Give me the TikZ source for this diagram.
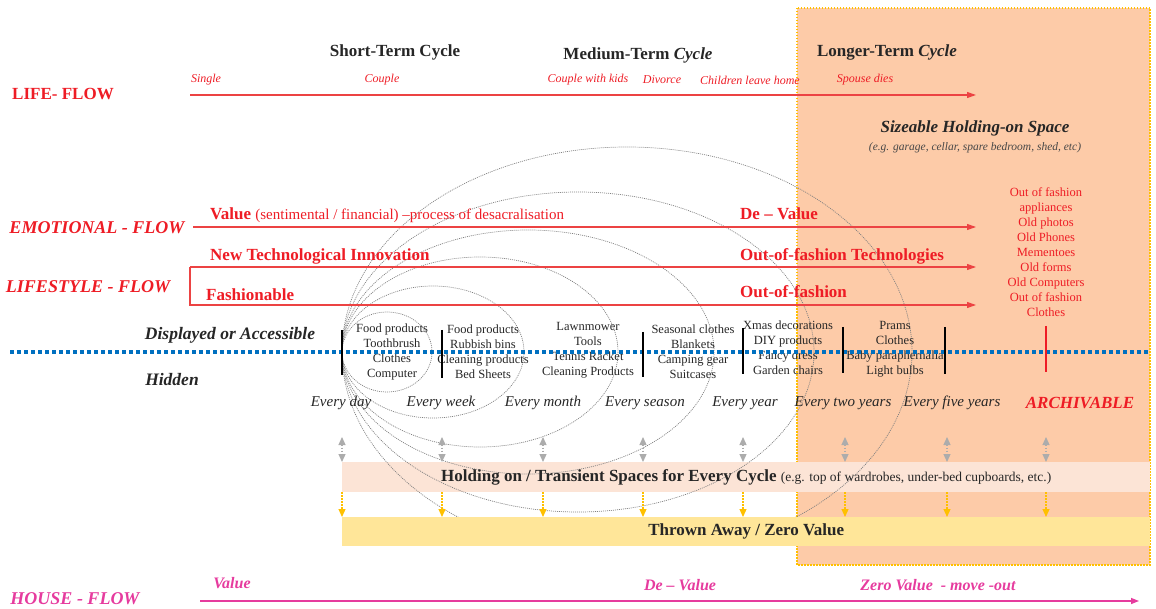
\documentclass[tikz,border=0pt]{standalone}
\usepackage{fontspec}
\setmainfont{Liberation Serif}
\usepackage{xcolor}
\usetikzlibrary{arrows.meta}

\definecolor{flowred}{HTML}{EE1C25}
\definecolor{linered}{HTML}{EC4343}
\definecolor{peach}{HTML}{FDCBA8}
\definecolor{peachlight}{HTML}{FCE4D6}
\definecolor{butter}{HTML}{FFE699}
\definecolor{amber}{HTML}{FFC000}
\definecolor{dotblue}{HTML}{0070C0}
\definecolor{housepink}{HTML}{E63B9E}
\definecolor{inkgray}{HTML}{262626}

\begin{document}
\begin{tikzpicture}[x=1pt,y=-1pt,
  cyclehead/.style={font=\fontsize{17}{20}\selectfont\bfseries,text=inkgray},
  flowname/.style={font=\fontsize{18}{21}\selectfont\bfseries\itshape,text=flowred},
  lifeev/.style={font=\fontsize{12}{14}\selectfont\itshape,text=flowred},
  flowtag/.style={font=\fontsize{17}{20}\selectfont\bfseries,text=flowred,anchor=west,inner sep=0pt},
  itemlist/.style={font=\fontsize{12.5}{15}\selectfont,text=inkgray,align=center},
  freq/.style={font=\fontsize{15}{18}\selectfont\itshape,text=inkgray},
  housetag/.style={font=\fontsize{16}{19}\selectfont\bfseries\itshape,text=housepink},
  flow/.style={draw=linered,line width=1.1pt,-{Triangle[length=9pt,width=6pt]}},
  cyclebar/.style={draw=black,line width=1.8pt},
  cyclering/.style={draw=gray,line width=0.7pt,dash pattern=on 1pt off 1pt},
  holdarrow/.style={draw=gray!65,line width=1.2pt,dash pattern=on 1.5pt off 1.5pt,{Triangle[length=8pt,width=7pt]}-{Triangle[length=8pt,width=7pt]}},
  dumparrow/.style={draw=amber,line width=1.2pt,dash pattern=on 1.5pt off 1.5pt,-{Triangle[length=8pt,width=7pt]}},
  band/.style={minimum width=808pt,inner sep=0pt,anchor=north west}]
\useasboundingbox (0,0) rectangle (1156,609);

% longer-term zone
\draw[draw=amber,line width=1.5pt,dash pattern=on 1.5pt off 1.5pt,fill=peach] (797,8) rectangle (1150,565);

% transient band
\node[band,fill=peachlight,minimum height=30pt] (hold) at (342,462) {};

% cycles
\begin{scope}
\clip (0,0) rectangle (1156,517);
\foreach \cx/\rx/\ry in {387/45/40,433/91/66,480/138/95,528/186/122,578/236/160,627/285/205}
  \draw[cyclering] (\cx,352) ellipse [x radius=\rx, y radius=\ry];
\end{scope}

\node[band,fill=butter,minimum height=29pt] (thrown) at (342,517) {};
\node[font=\fontsize{17}{20}\selectfont\bfseries,text=inkgray] (holdtxt) at (hold.center)
  {Holding on / Transient Spaces for Every Cycle {\mdseries\fontsize{13.5}{16}\selectfont (e.g. top of wardrobes, under-bed cupboards, etc.)}};
\node[font=\fontsize{17}{20}\selectfont\bfseries,text=inkgray] (throwntxt) at (thrown.center) {Thrown Away / Zero Value};

% headings
\node[cyclehead] (shortT) at (395,52) {Short-Term Cycle};
\node[cyclehead] (mediumT) at (638,55) {Medium-Term \textit{Cycle}};
\node[cyclehead] (longT) at (887,52) {Longer-Term \textit{Cycle}};

% life flow
\node[font=\fontsize{17}{20}\selectfont\bfseries,text=flowred] (lifeN) at (63,94) {LIFE- FLOW};
\coordinate (lifeA) at (190,95);
\coordinate (lifeB) at (976,95);
\draw[flow] (lifeA) -- (lifeB);
\foreach \px/\ev in {206/Single,382/Couple,588/Couple with kids,662/Divorce,750/Children leave home,865/Spouse dies}
  \node[lifeev] (life\px) at (\px,80) {\ev};

% sizeable space
\node[font=\fontsize{17}{20}\selectfont\bfseries\itshape,text=inkgray] (sizeable) at (975,128) {Sizeable Holding-on Space};
\node[font=\fontsize{11.5}{14}\selectfont\itshape,text=inkgray!85] (sizeeg) at (975,148) {(e.g. garage, cellar, spare bedroom, shed, etc)};
\node[font=\fontsize{12.5}{15}\selectfont,text=flowred,align=center] (archlist) at (1046,252)
  {Out of fashion\\appliances\\Old photos\\Old Phones\\Mementoes\\Old forms\\Old Computers\\Out of fashion\\Clothes};

% emotional flow
\node[flowname] (emoN) at (97,228) {EMOTIONAL - FLOW};
\coordinate (emoA) at (193,227);
\coordinate (emoB) at (976,227);
\draw[flow] (emoA) -- (emoB);
\node[flowtag] (emoV) at (210,215) {Value {\mdseries\fontsize{15}{18}\selectfont (sentimental / financial) –process of desacralisation}};
\node[flowtag] (emoD) at (740,214) {De – Value};

% lifestyle flow
\node[flowname] (lifeS) at (88,287) {LIFESTYLE - FLOW};
\coordinate (techA) at (190,267);
\coordinate (techB) at (976,267);
\coordinate (fashA) at (190,305);
\coordinate (fashB) at (976,305);
\draw[flow] (techA) -- (techB);
\draw[flow] (techA) -- (fashA) -- (fashB);
\node[flowtag] (techV) at (210,256) {New Technological Innovation};
\node[flowtag] (techD) at (740,256) {Out-of-fashion Technologies};
\node[flowtag] (fashV) at (206,295) {Fashionable};
\node[flowtag] (fashD) at (740,292) {Out-of-fashion};

% displayed / hidden
\node[font=\fontsize{17.5}{20}\selectfont\bfseries\itshape,text=inkgray] (shown) at (230,335) {Displayed or Accessible};
\node[font=\fontsize{17.5}{20}\selectfont\bfseries\itshape,text=inkgray] (hidden) at (172,380) {Hidden};

% contents of each cycle
\node[itemlist] (items1) at (392,352) {Food products\\Toothbrush\\Clothes\\Computer};
\node[itemlist] (items2) at (483,352) {Food products\\Rubbish bins\\Cleaning products\\Bed Sheets};
\node[itemlist] (items3) at (588,350) {Lawnmower\\Tools\\Tennis Racket\\Cleaning Products};
\node[itemlist] (items4) at (693,352) {Seasonal clothes\\Blankets\\Camping gear\\Suitcases};
\node[itemlist] (items5) at (788,348) {Xmas decorations\\DIY products\\Fancy dress\\Garden chairs};
\node[itemlist] (items6) at (895,349) {Prams\\Clothes\\Baby paraphernalia\\Light bulbs};

\coordinate (lineL) at (10,352);
\coordinate (lineR) at (1150,352);
\draw[draw=dotblue,line width=3.5pt,dash pattern=on 3.5pt off 3.5pt] (lineL) -- (lineR);

\foreach \bx/\ya/\yb in {342/330/375,442/330/378,643/332/377,743/328/374,843/327/373,945/327/374}
  \draw[cyclebar] (\bx,\ya) -- (\bx,\yb);
\draw[draw=flowred,line width=1.8pt] (1046,326) -- (1046,372);

% frequencies
\node[freq] (fday) at (341,403) {Every day};
\node[freq] (fweek) at (441,403) {Every week};
\node[freq] (fmonth) at (543,403) {Every month};
\node[freq] (fseason) at (645,403) {Every season};
\node[freq] (fyear) at (745,403) {Every year};
\node[freq] (ftwo) at (843,403) {Every two years};
\node[freq] (ffive) at (952,403) {Every five years};
\node[font=\fontsize{17}{20}\selectfont\bfseries\itshape,text=flowred] (farch) at (1080,403) {ARCHIVABLE};

\foreach \ax in {342,442,543,643,743,845,947,1046}{
  \coordinate (keep\ax) at (\ax,437);
  \draw[holdarrow] (keep\ax) -- (hold.north -| \ax,0);
  \draw[dumparrow] (hold.south -| \ax,0) -- (thrown.north -| \ax,0);
}

% house flow
\node[font=\fontsize{18}{21}\selectfont\bfseries\itshape,text=housepink] (houseN) at (75,599) {HOUSE - FLOW};
\coordinate (houseA) at (200,601);
\coordinate (houseB) at (1139,601);
\draw[draw=housepink,line width=1.4pt,-{Triangle[length=8pt,width=6pt]}] (houseA) -- (houseB);
\node[housetag] (houseV) at (232,583) {Value};
\node[housetag] (houseD) at (680,585) {De – Value};
\node[housetag] (houseZ) at (938,585) {Zero Value \ - move -out};
\end{tikzpicture}
\end{document}
